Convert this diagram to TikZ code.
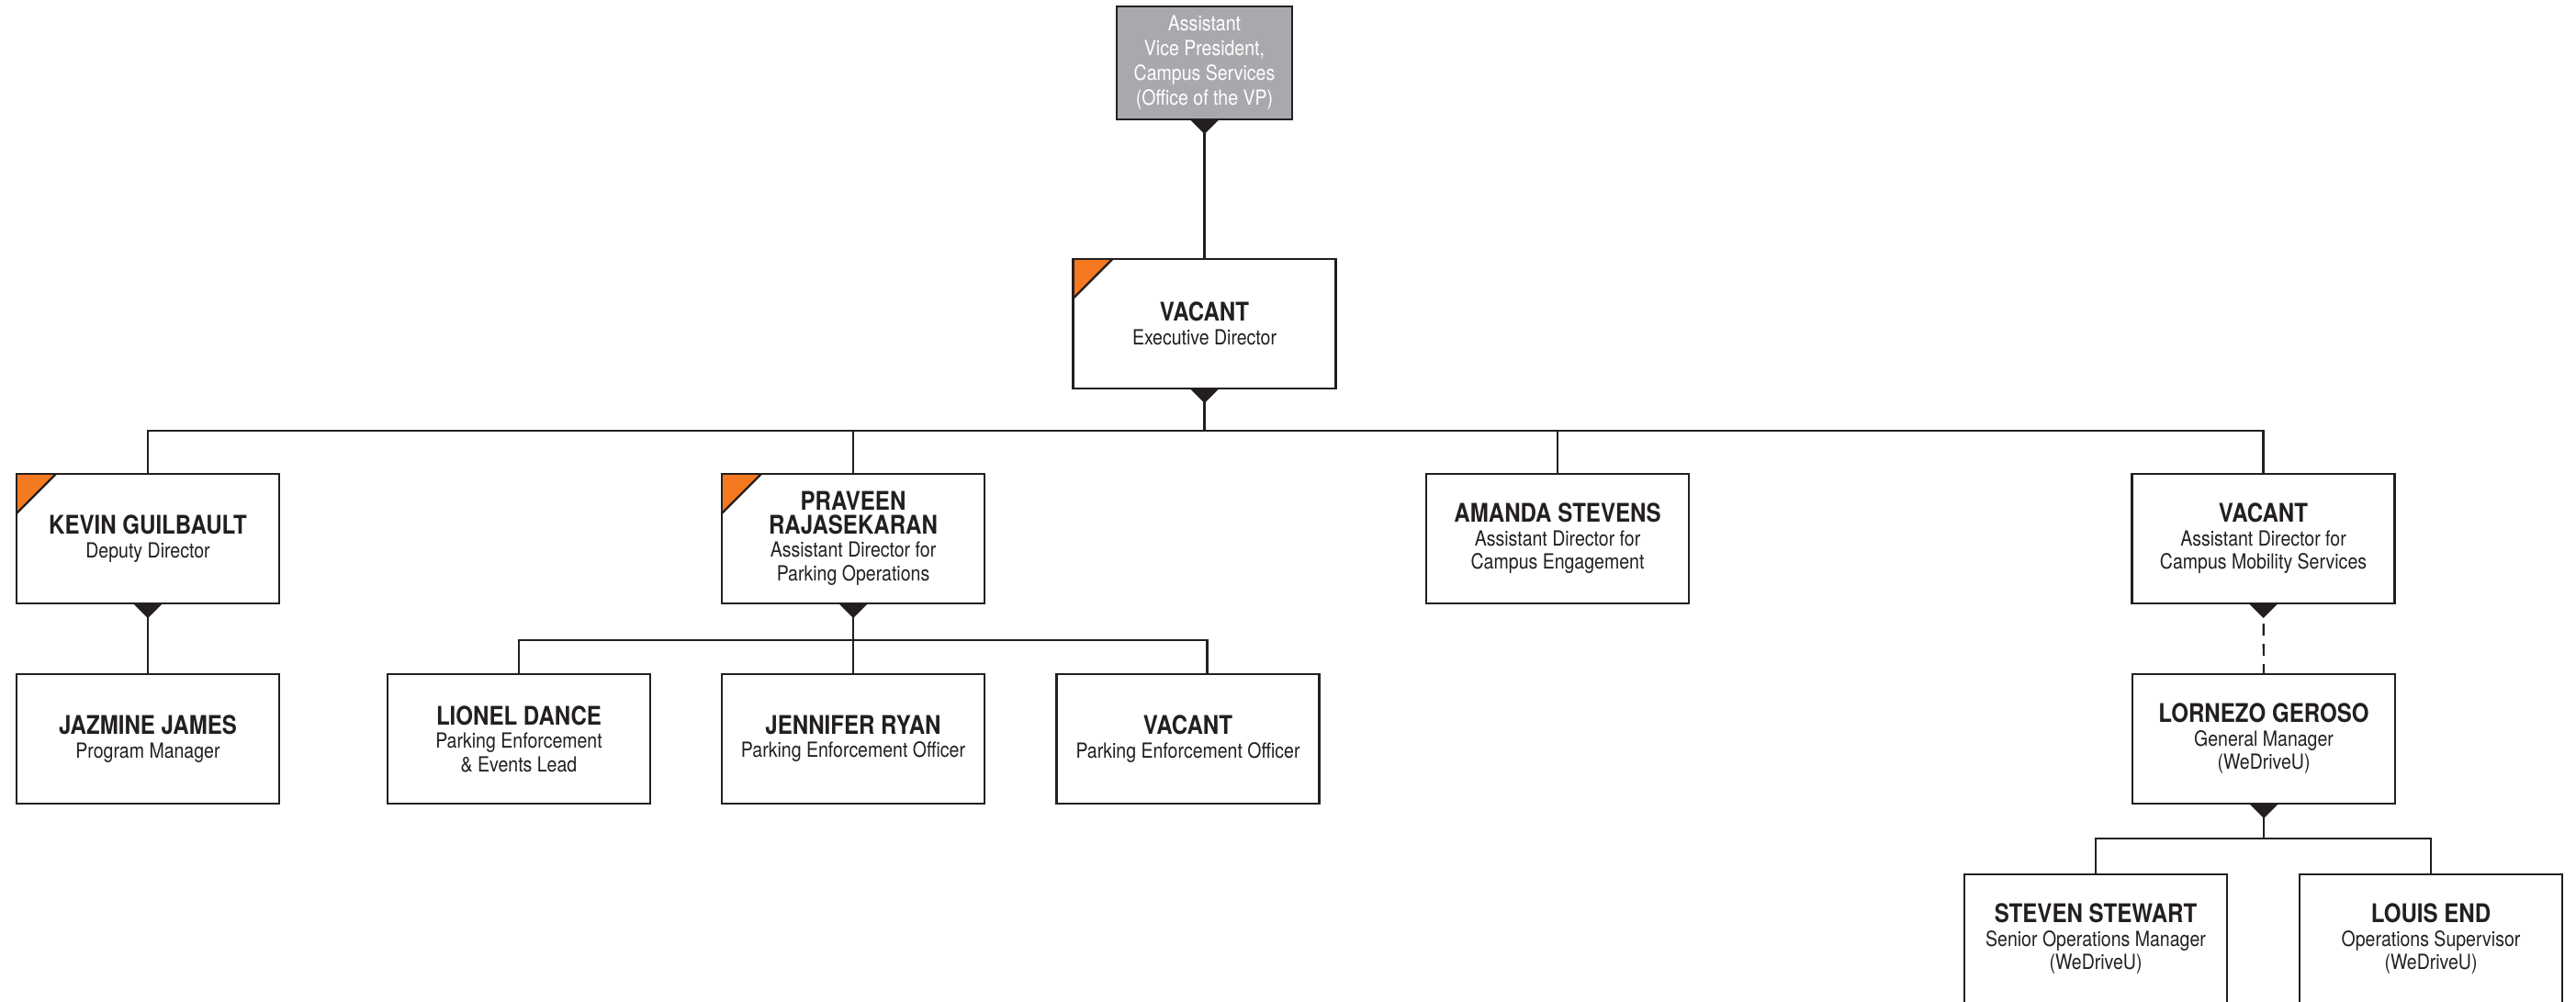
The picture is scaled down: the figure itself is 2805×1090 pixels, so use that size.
\documentclass[tikz,border=0pt]{standalone}
\usepackage{fontspec}
\setmainfont{TeX Gyre Heros}[FakeStretch=0.86]
\definecolor{ink}{HTML}{231F20}
\definecolor{vpgray}{HTML}{A7A9AC}
\definecolor{flagorange}{HTML}{F47920}
\newcommand{\who}[1]{{\fontsize{28}{29}\selectfont\bfseries #1}}
\newcommand{\drop}[1]{\fill[ink] (#1.south) ++(-16,0) -- ++(32,0) -- ++(-16,16) -- cycle;}
\begin{document}
\begin{tikzpicture}[x=1pt, y=-1pt, line join=miter,
	box/.style={draw=ink, line width=2.2pt, fill=white, minimum width=286pt, minimum height=141pt,
		inner sep=0pt, outer sep=0pt, align=center, text=ink, font=\fontsize{22.7}{25.5}\selectfont},
	vpbox/.style={box, fill=vpgray, text=white, minimum width=191pt, minimum height=123pt,
		font=\fontsize{22.7}{27}\selectfont},
	flagbox/.style={box, path picture={
		\fill[flagorange] (path picture bounding box.north west) -- ++(43,0) -- ++(-43,43) -- cycle;
		\draw[ink, line width=2.2pt] (path picture bounding box.north west) ++(43,0) -- ++(-43,43);}},
	wire/.style={draw=ink, line width=2.2pt},
	dotted wire/.style={wire, dash pattern=on 13pt off 9pt}]
	\useasboundingbox (0,0) rectangle (2805,1090);
	\clip (0,0) rectangle (2805,1090);
	% top
	\node[vpbox] (avp) at (1311.5,68.5) {Assistant\\Vice President,\\Campus Services\\(Office of the VP)};
	\node[flagbox] (exec) at (1311.5,352.5) {\who{VACANT}\\Executive Director};
	% row 1
	\node[flagbox] (kevin) at (161,586.5) {\who{KEVIN GUILBAULT}\\Deputy Director};
	\node[flagbox] (praveen) at (929,586.5) {\who{PRAVEEN}\\\who{RAJASEKARAN}\\Assistant Director for\\Parking Operations};
	\node[box] (amanda) at (1696,586.5) {\who{AMANDA STEVENS}\\Assistant Director for\\Campus Engagement};
	\node[box] (mobility) at (2464.5,586.5) {\who{VACANT}\\Assistant Director for\\Campus Mobility Services};
	% row 2
	\node[box] (jazmine) at (161,804.5) {\who{JAZMINE JAMES}\\Program Manager};
	\node[box] (lionel) at (565,804.5) {\who{LIONEL DANCE}\\Parking Enforcement\\\& Events Lead};
	\node[box] (jennifer) at (929,804.5) {\who{JENNIFER RYAN}\\Parking Enforcement Officer};
	\node[box] (pevacant) at (1293.5,804.5) {\who{VACANT}\\Parking Enforcement Officer};
	\node[box] (lornezo) at (2465,804.5) {\who{LORNEZO GEROSO}\\General Manager\\(WeDriveU)};
	% row 3
	\node[box] (steven) at (2282,1022.5) {\who{STEVEN STEWART}\\Senior Operations Manager\\(WeDriveU)};
	\node[box] (louis) at (2647,1022.5) {\who{LOUIS END}\\Operations Supervisor\\(WeDriveU)};
	% connectors
	\coordinate (bus1) at (1311.5,469);
	\coordinate (bus2) at (929,697);
	\coordinate (bus3) at (2465,913);
	\coordinate (pevtop) at ([xshift=21pt]pevacant.north);
	\draw[wire] (avp.south) -- (exec.north);
	\draw[wire] (exec.south) -- (bus1);
	\draw[wire] (kevin.north) |- (bus1) -| (mobility.north);
	\draw[wire] (praveen.north) -- (praveen.north |- bus1);
	\draw[wire] (amanda.north) -- (amanda.north |- bus1);
	\draw[wire] (kevin.south) -- (jazmine.north);
	\draw[wire] (praveen.south) -- (jennifer.north);
	\draw[wire] (lionel.north) |- (bus2) -| (pevtop);
	\draw[dotted wire] (mobility.south) -- (lornezo.north);
	\draw[wire] (lornezo.south) -- (bus3);
	\draw[wire] (steven.north) |- (bus3) -| (louis.north);
	% drops
	\drop{avp} \drop{exec} \drop{kevin} \drop{praveen} \drop{mobility} \drop{lornezo}
\end{tikzpicture}
\end{document}
